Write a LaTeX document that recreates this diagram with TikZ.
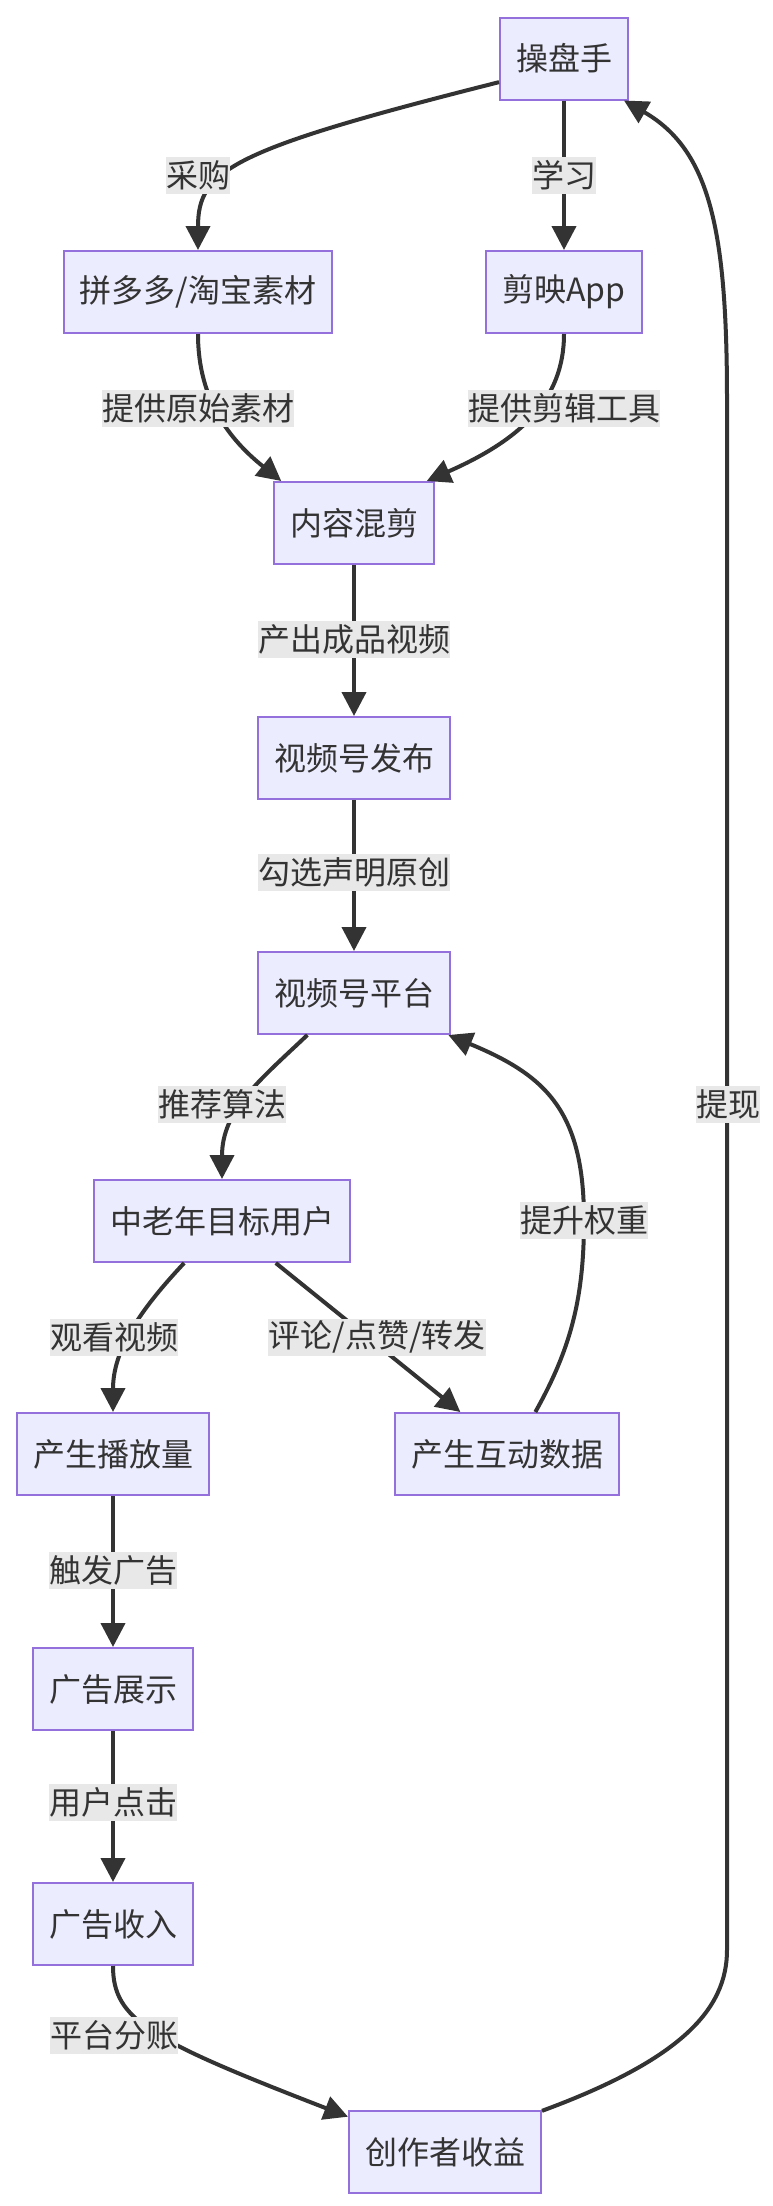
\documentclass[tikz,border=0pt]{standalone}
\usepackage{fontspec}
\setmainfont{Noto Sans CJK SC}
\usepackage{xcolor}
\usetikzlibrary{arrows.meta, positioning}

\definecolor{boxfill}{HTML}{ECECFF}
\definecolor{boxline}{HTML}{9370DB}
\definecolor{inkgray}{HTML}{333333}
\definecolor{lblfill}{HTML}{E8E8E8}

\begin{document}
\begin{tikzpicture}[x=0.5pt, y=-0.5pt,
    box/.style={draw=boxline, fill=boxfill, line width=1pt, minimum height=41pt, inner xsep=8pt, text=inkgray, font=\fontsize{16}{19}\selectfont},
    lbl/.style={fill=lblfill, inner xsep=0pt, inner ysep=0pt, minimum height=18.5pt, text=inkgray, font=\fontsize{16}{19}\selectfont},
    link/.style={draw=inkgray, line width=2pt, -{Triangle[length=12pt, width=12pt]}}]
    \useasboundingbox (0,0) rectangle (772,2206);

    % Các khối chính
    \node[box] (op) at (564,58.5) {操盘手};
    \node[box] (pdd) at (198,292) {拼多多/淘宝素材};
    \node[box] (jy) at (564,292) {剪映App};
    \node[box] (nr) at (354,523) {内容混剪};
    \node[box, below=75.5pt of nr] (sf) {视频号发布};
    \node[box, below=75.5pt of sf] (pt) {视频号平台};
    \node[box] (zl) at (222,1221) {中老年目标用户};
    \node[box] (bf) at (113,1454) {产生播放量};
    \node[box] (hd) at (507,1454) {产生互动数据};
    \node[box, below=75.5pt of bf] (gz) {广告展示};
    \node[box, below=75.5pt of gz] (sr) {广告收入};
    \node[box] (cz) at (445,2152) {创作者收益};

    % Các mũi tên
    \draw[link] (op.200) .. controls (230,150) and (198,170) .. (pdd.north);
    \draw[link] (op) -- (jy);
    \draw[link] (pdd.south) .. controls (198,400) and (230,440) .. (nr.150);
    \draw[link] (jy.south) .. controls (564,400) and (520,440) .. (nr.30);
    \draw[link] (nr) -- (sf);
    \draw[link] (sf) -- (pt);
    \draw[link] (pt.222) .. controls (260,1080) and (222,1110) .. (zl.north);
    \draw[link] (zl.228) .. controls (140,1310) and (113,1350) .. (bf.north);
    \draw[link] (zl.322) -- (hd.138);
    \draw[link] (hd.56) .. controls (570,1350) and (584,1300) .. (584,1220) .. controls (584,1110) and (545,1075) .. (pt.336);
    \draw[link] (bf) -- (gz);
    \draw[link] (gz) -- (sr);
    \draw[link] (sr.south) .. controls (113,2020) and (150,2040) .. (cz.160);
    \draw[link] (cz.23) .. controls (680,2060) and (727,2010) .. (727,1950) -- (727,400) .. controls (727,230) and (710,150) .. (op.325);

    % Nhãn trên các mũi tên
    \node[lbl] (lCaigou) at (198,175) {采购};
    \node[lbl] (lXuexi) at (564,175) {学习};
    \node[lbl] (lYuanshi) at (198,408) {提供原始素材};
    \node[lbl] (lGongju) at (564,408) {提供剪辑工具};
    \node[lbl] (lChanchu) at (354,639) {产出成品视频};
    \node[lbl] (lGouxuan) at (354,872) {勾选声明原创};
    \node[lbl] (lTuijian) at (222,1104) {推荐算法};
    \node[lbl] (lGuankan) at (114,1337) {观看视频};
    \node[lbl] (lPinglun) at (377,1337) {评论/点赞/转发};
    \node[lbl] (lTisheng) at (584,1220) {提升权重};
    \node[lbl] (lChufa) at (113,1570) {触发广告};
    \node[lbl] (lDianji) at (113,1802) {用户点击};
    \node[lbl] (lFenzhang) at (114,2035) {平台分账};
    \node[lbl] (lTixian) at (728,1104) {提现};
\end{tikzpicture}
\end{document}
